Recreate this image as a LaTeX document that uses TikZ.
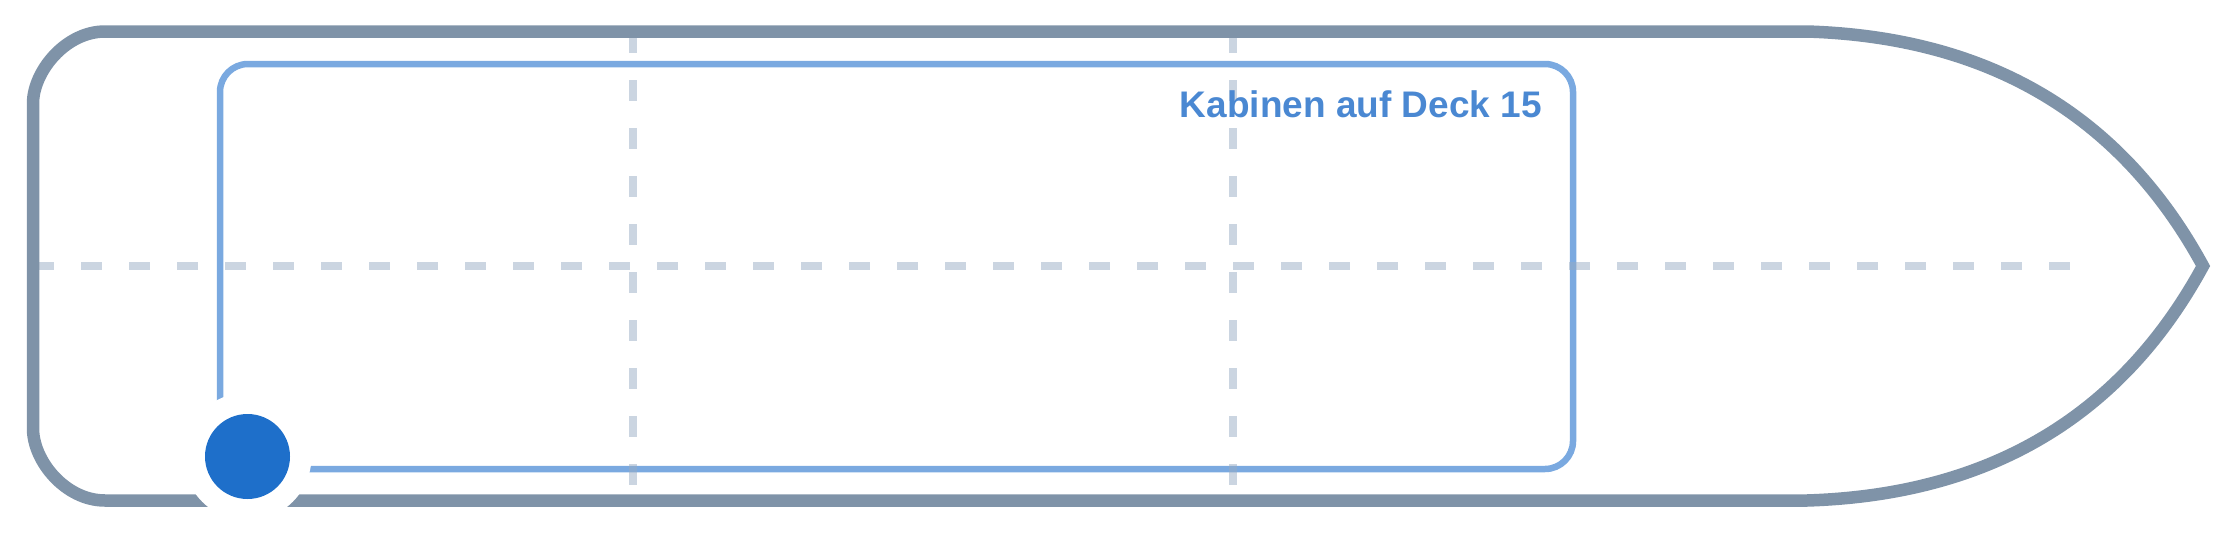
\documentclass[tikz,border=0pt]{standalone}
\usepackage{fontspec}
\setmainfont{Liberation Sans}
\definecolor{hullc}{HTML}{7F93A8}
\definecolor{deckc}{HTML}{7AA9E0}
\definecolor{gridc}{HTML}{97ABC3}
\definecolor{dotc}{HTML}{1E6FCA}
\definecolor{labelc}{HTML}{4A88D2}
\tikzset{
  hull/.style={draw=hullc, line width=12.5pt, line join=miter},
  deck/.style={draw=deckc, line width=6.5pt, rounded corners=28pt},
  grid/.style={draw=gridc, draw opacity=0.5, line width=8pt, dash pattern=on 21pt off 27pt},
  halo/.style={circle, fill=white, minimum size=128pt, inner sep=0pt},
  dot/.style={circle, fill=dotc, minimum size=85pt, inner sep=0pt},
  label/.style={text=labelc, font=\fontsize{37}{44}\selectfont\bfseries, inner sep=0pt, anchor=base east}
}
\begin{document}
\begin{tikzpicture}[x=1pt, y=-1pt]
\useasboundingbox (0,0) rectangle (2240,533);
% cabin deck outline
\draw[deck] (220,64) rectangle (1573,469);
% grid lines
\draw[grid] (33,266) -- (2072,266);
\draw[grid] (633,32) -- (633,505);
\draw[grid] (1233,32) -- (1233,505);
% hull
\draw[hull] (105,31.5) -- (1807,31.5)
  .. controls (1989,37.2) and (2121,115.3) .. (2203,266)
  .. controls (2121,416.7) and (1989,494.8) .. (1807,500.5)
  -- (105,500.5)
  .. controls (65.3,500.5) and (33,460.8) .. (33,428.5)
  -- (33,103.5)
  .. controls (33,71.8) and (65.3,31.5) .. (105,31.5) -- cycle;
% marker
\node[halo] (h) at (247.5,456.5) {};
\node[dot] (d) at (247.5,456.5) {};
% label
\node[label] (t) at (1542,117) {Kabinen auf Deck 15};
\end{tikzpicture}
\end{document}
